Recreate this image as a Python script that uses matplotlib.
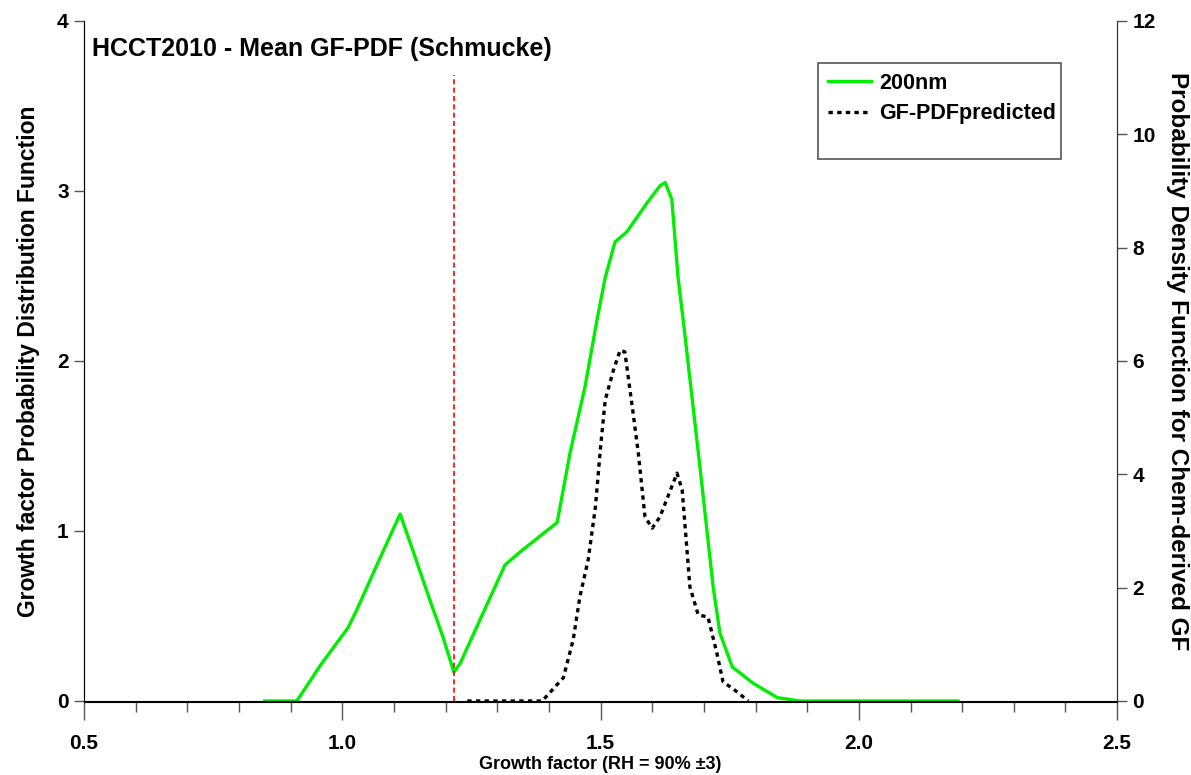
#!/usr/bin/env python3

import matplotlib
matplotlib.use('Agg')
import matplotlib.pyplot as plt
from matplotlib.patches import Rectangle
from matplotlib.ticker import MultipleLocator

# growth factor PDF, 200 nm (left axis)
gf_200 = [0.85, 0.912, 0.96, 1.011, 1.028, 1.07, 1.112, 1.135, 1.17, 1.195,
          1.216, 1.228, 1.273, 1.315, 1.344, 1.416, 1.441, 1.47, 1.493, 1.509,
          1.528, 1.551, 1.59, 1.615, 1.625, 1.638, 1.65, 1.66, 1.693, 1.718,
          1.731, 1.755, 1.795, 1.842, 1.886, 2.192]
pdf_200 = [0.0, 0.0, 0.22, 0.43, 0.535, 0.82, 1.10, 0.9, 0.59, 0.376,
           0.17, 0.22, 0.52, 0.80, 0.876, 1.05, 1.46, 1.85, 2.24, 2.49,
           2.70, 2.76, 2.93, 3.03, 3.05, 2.95, 2.49, 2.24, 1.36, 0.67,
           0.40, 0.20, 0.105, 0.02, 0.0, 0.0]

# predicted GF-PDF from chemistry (right axis)
gf_pred = [1.242, 1.387, 1.428, 1.447, 1.46, 1.476, 1.49, 1.5, 1.509, 1.525,
           1.538, 1.547, 1.563, 1.573, 1.586, 1.60, 1.615, 1.648, 1.658, 1.673,
           1.689, 1.708, 1.725, 1.737, 1.76, 1.786]
pdf_pred = [0.0, 0.0, 0.41, 1.08, 1.84, 2.49, 3.42, 4.48, 5.31, 5.84,
            6.19, 6.16, 5.08, 4.38, 3.25, 3.05, 3.25, 4.02, 3.72, 2.01,
            1.52, 1.48, 0.85, 0.34, 0.19, 0.0]

gf_cut = 1.216
xticks = [0.5, 1.0, 1.5, 2.0, 2.5]

plt.rcParams['font.family'] = ['Liberation Sans', 'DejaVu Sans']
plt.rcParams['font.weight'] = 'bold'
plt.rcParams['axes.labelweight'] = 'bold'

fig = plt.figure(figsize=(11.91, 7.75), dpi=100)
ax = fig.add_axes([0.0705, 0.0955, 0.8675, 0.8775])
ax2 = ax.twinx()

ax.plot(gf_200, pdf_200, color='#00ee00', lw=2.4, label='200nm')
ax2.plot(gf_pred, pdf_pred, color='black', lw=2.4, linestyle=(0, (1.3, 1.3)),
         label='GF-PDFpredicted')
ax.plot([gf_cut, gf_cut], [0, 3.68], color='red', lw=1.2, linestyle=(0, (3, 2)))

ax.set_xlim(0.5, 2.5)
ax.set_ylim(0, 4)
ax2.set_ylim(0, 12)
ax.set_xticks(xticks)
ax.set_xticklabels([f'{v:.1f}' for v in xticks])
ax.xaxis.set_minor_locator(MultipleLocator(0.1))
ax.set_yticks(range(0, 5))
ax2.set_yticks(range(0, 13, 2))

for a in (ax, ax2):
    a.spines['top'].set_visible(False)
    a.tick_params(which='major', length=7, width=1, color='#555555',
                  labelsize=15, pad=4)
ax.tick_params(axis='x', which='major', length=13, pad=10)
ax.tick_params(axis='x', which='minor', length=7, width=1, color='#555555')
ax.spines['left'].set_color('#333333')
ax2.spines['right'].set_color('#333333')
ax.spines['bottom'].set_position(('outward', 1))

ax.set_xlabel('Growth factor (RH = 90% \u00b13)', fontsize=13, labelpad=2)
ax.set_ylabel('Growth factor Probability Distribution Function',
              fontsize=16.5, labelpad=12)
ax2.set_ylabel('Probability Density Function for Chem-derived GF',
               fontsize=17.5, rotation=270, labelpad=24)

ax.text(0.008, 0.977, 'HCCT2010 - Mean GF-PDF (Schmucke)',
        transform=ax.transAxes, fontsize=18, va='top')

# legend frame drawn separately so it can be taller than its entries
fig.patches.append(Rectangle((0.6868, 0.7948), 0.2041, 0.1239,
                             transform=fig.transFigure, fill=False,
                             edgecolor='#555555', lw=1.2))
h1, l1 = ax.get_legend_handles_labels()
h2, l2 = ax2.get_legend_handles_labels()
ax2.legend(h1 + h2, l1 + l2, loc='upper left',
           bbox_to_anchor=(0.6868, 0.9187), bbox_transform=fig.transFigure,
           frameon=False, fontsize=15.5, handlelength=2.0, handletextpad=0.4,
           borderaxespad=0.0, borderpad=0.45, labelspacing=0.45)

fig.savefig('out.png', dpi=100)
